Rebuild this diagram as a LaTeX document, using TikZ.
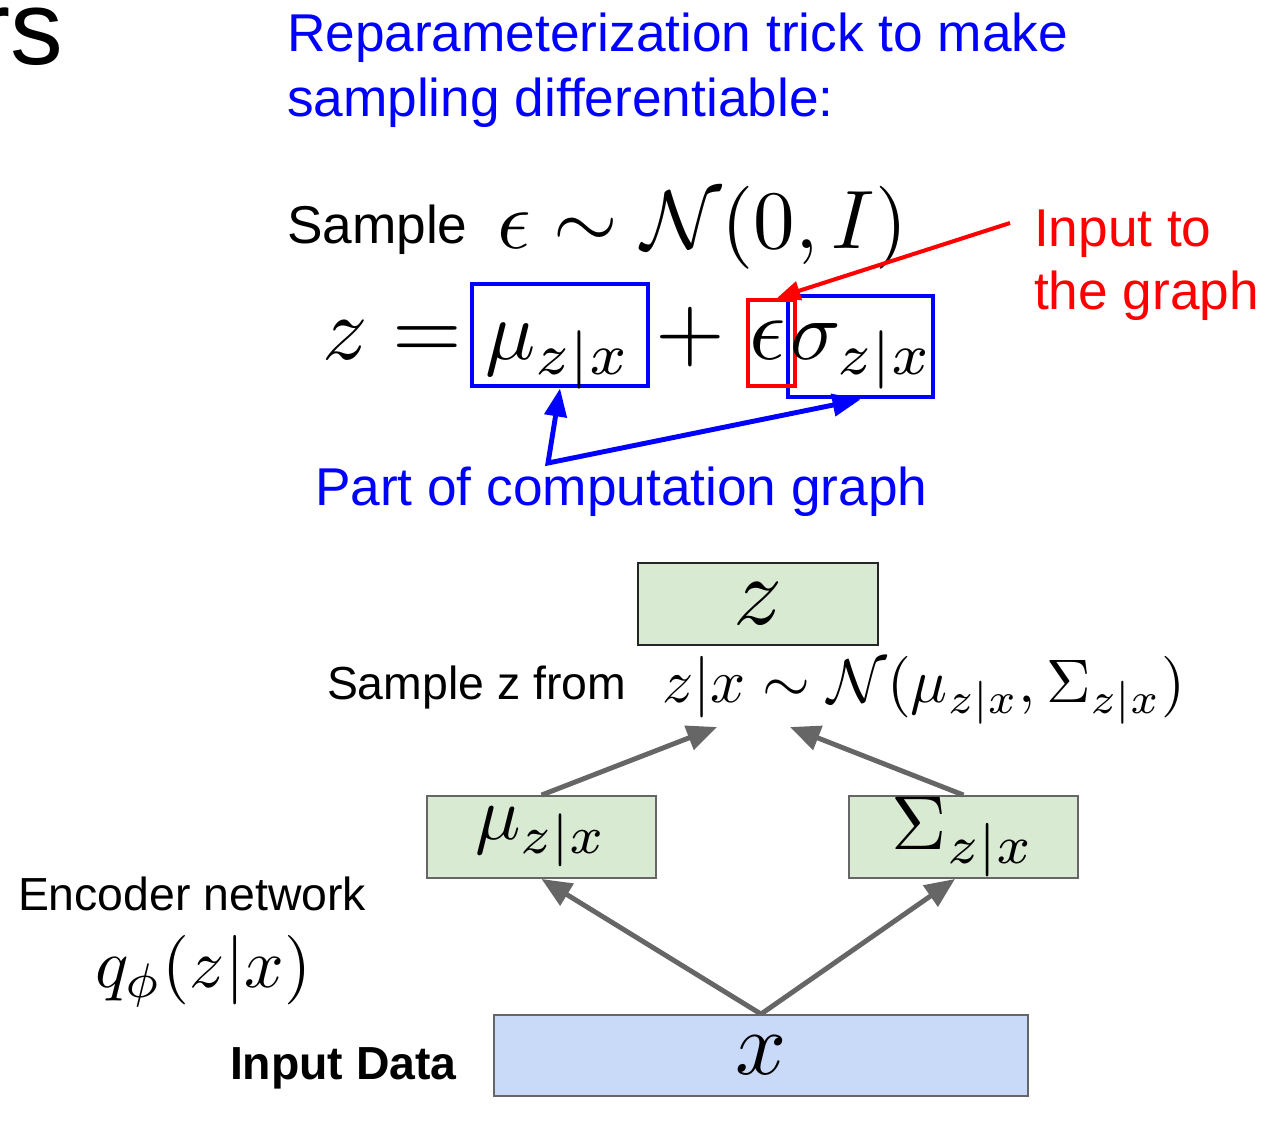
\documentclass[tikz,border=0pt]{standalone}
\usepackage{graphicx}
\usepackage[no-math]{fontspec}
\setmainfont{Liberation Sans}
\usetikzlibrary{arrows.meta}
\definecolor{tblue}{HTML}{0000FF}
\definecolor{tred}{HTML}{FF0000}
\definecolor{boxgreen}{HTML}{D9EAD3}
\definecolor{boxblue}{HTML}{C9DAF8}
\definecolor{agray}{HTML}{666666}
\newcommand\scmath[2]{\scalebox{#1}{\fontsize{10}{12}\selectfont$#2$}}
\tikzset{
  txt/.style={anchor=base west, inner sep=0pt, outer sep=0pt},
  big/.style={font=\fontsize{30.3}{37}\selectfont},
  small/.style={font=\fontsize{26.4}{32}\selectfont},
  bluebox/.style={draw=tblue, line width=2.8pt, inner sep=0pt},
  redbox/.style={draw=tred, line width=2.5pt, inner sep=0pt},
  gbox/.style={draw=agray, line width=1.1pt, fill=boxgreen, inner sep=0pt},
  xboxst/.style={draw=agray, line width=1.1pt, fill=boxblue, inner sep=0pt},
  bluearrow/.style={draw=tblue, line width=2.8pt, {Triangle[length=0.56cm,width=0.44cm]}-{Triangle[length=0.56cm,width=0.44cm]}},
  redarrow/.style={draw=tred, line width=2.3pt, -{Triangle[length=0.46cm,width=0.38cm]}},
  grayarrow/.style={draw=agray, line width=2.8pt, -{Triangle[length=0.6cm,width=0.5cm]}},
}
\begin{document}
\begin{tikzpicture}[x=0.02cm, y=-0.02cm]
\clip (0,0) rectangle (1280,1127);
\useasboundingbox (0,0) rectangle (1280,1127);
\fill[white] (0,0) rectangle (1280,1127);

% cut-off title
\node[anchor=base east, inner sep=0pt, font=\fontsize{60}{72}\selectfont] (rs) at (64,64) {rs};

% blue heading
\node[txt, big, text=tblue] (h1) at (287,51) {Reparameterization trick to make};
\node[txt, big, text=tblue] (h2) at (287,116) {sampling differentiable:};

% sample line
\node[txt, big] (samp) at (287,243) {Sample};
\node[txt] (eqA) at (497,248) {\scmath{4.72}{\epsilon\sim\mathcal{N}(0,I)}};

% z equation
\node[bluebox, minimum width=3.52cm, minimum height=2.04cm] (mubox) at (560,335) {};
\node[bluebox, minimum width=2.9cm, minimum height=2.02cm] (sigbox) at (860.5,346.5) {};
\node[redbox, minimum width=0.94cm, minimum height=1.72cm] (epsbox) at (771.5,343) {};
\node[txt] (zeq) at (322,359) {\scmath{5.1}{z=}};
\node[txt] (mu) at (485,359) {\scmath{4.75}{\mu_{z|x}}};
\node[anchor=base, inner sep=0pt] (plus) at (690,359) {\scmath{5.1}{+}};
\node[txt] (eps) at (749,359) {\scmath{5.1}{\epsilon}};
\node[txt] (sig) at (790,359) {\scmath{4.75}{\sigma_{z|x}}};

% red annotation
\node[txt, big, text=tred] (in1) at (1034,246) {Input to};
\node[txt, big, text=tred] (in2) at (1034,309) {the graph};
\coordinate (redsrc) at (1010,223);
\draw[redarrow] (redsrc) -- ([xshift=-0.4cm]epsbox.north east);

% blue annotation
\coordinate (junc) at (548,463);
\draw[bluearrow] (mubox.south) -- (junc) -- (sigbox.south);
\node[txt, big, text=tblue] (pcg) at (315,505) {Part of computation graph};

% lower graph
\node[draw=black!85, line width=1.1pt, fill=boxgreen, inner sep=0pt, minimum width=4.8cm, minimum height=1.64cm] (zbox) at (758,604) {\scmath{5.5}{z}};
\node[txt, small] (sampz) at (327,699) {Sample z from};
\node[txt] (eqB) at (662,702) {\scmath{3.5}{z|x\sim\mathcal{N}(\mu_{z|x},\Sigma_{z|x})}};

\node[gbox, minimum width=4.58cm, minimum height=1.64cm] (mubox2) at (541.5,837) {\scmath{4.3}{\mu_{z|x}}};
\node[gbox, minimum width=4.58cm, minimum height=1.64cm] (sigbox2) at (963.5,837) {\scmath{4.35}{\Sigma_{z|x}}};
\node[xboxst, minimum width=10.68cm, minimum height=1.62cm] (xbox) at (761,1055.5) {\scmath{5.1}{x}};

\coordinate (tipL) at (717,727);
\coordinate (tipR) at (790,727);
\draw[grayarrow] (mubox2.north) -- (tipL);
\draw[grayarrow] (sigbox2.north) -- (tipR);
\draw[grayarrow] (xbox.north) -- (mubox2.south);
\draw[grayarrow] (xbox.north) -- ([xshift=-0.17cm]sigbox2.south);

\node[txt, small] (enc) at (18,910) {Encoder network};
\node[txt] (qphi) at (95,987) {\scmath{3.95}{q_\phi(z|x)}};
\node[txt, font=\fontsize{26.4}{32}\selectfont\bfseries] (inp) at (230,1079) {Input Data};
\end{tikzpicture}
\end{document}
